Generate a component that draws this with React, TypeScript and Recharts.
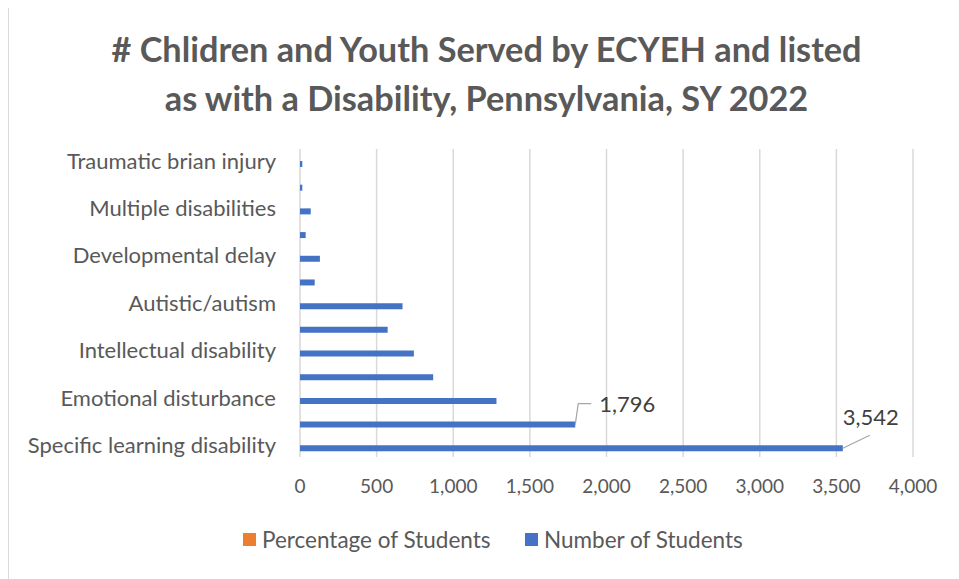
import { Bar, BarChart, CartesianGrid, LabelList, Legend, XAxis, YAxis } from "recharts";

const categories = [
  "Specific learning disability",
  "Other health impairment",
  "Emotional disturbance",
  "Speech or language impairment",
  "Intellectual disability",
  "Other disability",
  "Autistic/autism",
  "Hearing impairment",
  "Developmental delay",
  "Visual impairment",
  "Multiple disabilities",
  "Orthopedic impairment",
  "Traumatic brian injury",
];
const numberOfStudents = [3542, 1796, 1282, 869, 743, 572, 669, 96, 130, 37, 70, 15, 15];
const percentageOfStudents = [0.36, 0.18, 0.13, 0.09, 0.08, 0.06, 0.07, 0.01, 0.01, 0.0, 0.01, 0.0, 0.0];
const xTicks = [0, 500, 1000, 1500, 2000, 2500, 3000, 3500, 4000];
const seriesNames = ["Percentage of Students", "Number of Students"];
const titleLines = [
  "# Chlidren and Youth Served by ECYEH and listed",
  "as with a Disability, Pennsylvania, SY 2022",
];

const FONT = "Lato, 'Noto Sans', sans-serif";
const GREY = "#595959";

const data = categories.map((category, i) => ({
  category,
  pct: percentageOfStudents[i],
  num: numberOfStudents[i],
}));

// only the two largest bars carry a data label, each with its own leader line
function LeaderLabel(props: any) {
  const { index, value } = props;
  if (index !== 0 && index !== 1) return null;
  const vb = props.viewBox || props;
  const ex = (vb.x ?? props.x) + (vb.width ?? props.width);
  const ey = (vb.y ?? props.y) + (vb.height ?? props.height) / 2;
  const text = Number(value).toLocaleString("en-US");
  if (index === 0) {
    return (
      <g>
        <line x1={ex} y1={ey} x2={ex + 27} y2={ey - 13} stroke="#a6a6a6" strokeWidth={1.2} />
        <text x={ex} y={ey - 31} dy="0.35em" fill="#404040" fontSize={22} fontFamily={FONT}>
          {text}
        </text>
      </g>
    );
  }
  return (
    <g>
      <polyline
        points={`${ex},${ey} ${ex + 3},${ey - 21} ${ex + 16},${ey - 21}`}
        fill="none"
        stroke="#a6a6a6"
        strokeWidth={1.2}
      />
      <text x={ex + 24} y={ey - 20} dy="0.35em" fill="#404040" fontSize={22} fontFamily={FONT}>
        {text}
      </text>
    </g>
  );
}

function LegendContent({ payload }: any) {
  const starts = [234, 516];
  const items = [...(payload || [])].sort(
    (a: any, b: any) => seriesNames.indexOf(a.value) - seriesNames.indexOf(b.value)
  );
  return (
    <div style={{ position: "relative", height: 26, fontFamily: FONT }}>
      {items.map((p: any, i: number) => (
        <div
          key={p.value}
          style={{ position: "absolute", left: starts[i], top: 0, display: "flex", alignItems: "center" }}
        >
          <span style={{ width: 13, height: 13, background: p.color, display: "inline-block", marginRight: 6 }} />
          <span style={{ fontSize: 22.5, color: GREY }}>{p.value}</span>
        </div>
      ))}
    </div>
  );
}

export default function App() {
  return (
    <div
      style={{
        position: "relative",
        width: 950,
        height: 573,
        marginLeft: -1,
        marginTop: -4,
        borderLeft: "2px solid #d9d9d9",
        borderTop: "2px solid #d9d9d9",
        background: "#fff",
        fontFamily: FONT,
      }}
    >
      <svg width={950} height={120} style={{ position: "absolute", left: 0, top: 0 }}>
        {titleLines.map((t, i) => (
          <text
            key={t}
            x={477.5}
            y={55.5 + i * 49.5}
            textAnchor="middle"
            fill={GREY}
            fontSize={34.3}
            fontWeight="bold"
            fontFamily={FONT}
          >
            {t}
          </text>
        ))}
      </svg>
      <BarChart
        width={950}
        height={573}
        data={data}
        layout="vertical"
        barSize={6}
        barGap={0}
        margin={{ top: 143, right: 46, bottom: 92, left: 0 }}
        style={{ position: "absolute", left: 0, top: 0 }}
      >
        <CartesianGrid horizontal={false} stroke="#d9d9d9" strokeWidth={1.5} />
        <XAxis
          type="number"
          domain={[0, 4000]}
          ticks={xTicks}
          tickFormatter={(v: number) => v.toLocaleString("en-US")}
          axisLine={false}
          tickLine={false}
          tickSize={0}
          tickMargin={23}
          height={30}
          tick={{ fill: GREY, fontSize: 19, fontFamily: FONT }}
        />
        <YAxis
          type="category"
          dataKey="category"
          reversed
          interval={1}
          width={291}
          axisLine={false}
          tickLine={false}
          tickSize={0}
          tickMargin={24}
          tick={{ fill: GREY, fontSize: 22, fontFamily: FONT }}
        />
        <Legend
          layout="horizontal"
          verticalAlign="middle"
          align="center"
          content={<LegendContent />}
          wrapperStyle={{ top: 520, left: 0, width: 950 }}
        />
        <Bar dataKey="pct" name="Percentage of Students" fill="#ED7D31" isAnimationActive={false} />
        <Bar dataKey="num" name="Number of Students" fill="#4472C4" isAnimationActive={false}>
          <LabelList dataKey="num" content={<LeaderLabel />} />
        </Bar>
      </BarChart>
    </div>
  );
}
